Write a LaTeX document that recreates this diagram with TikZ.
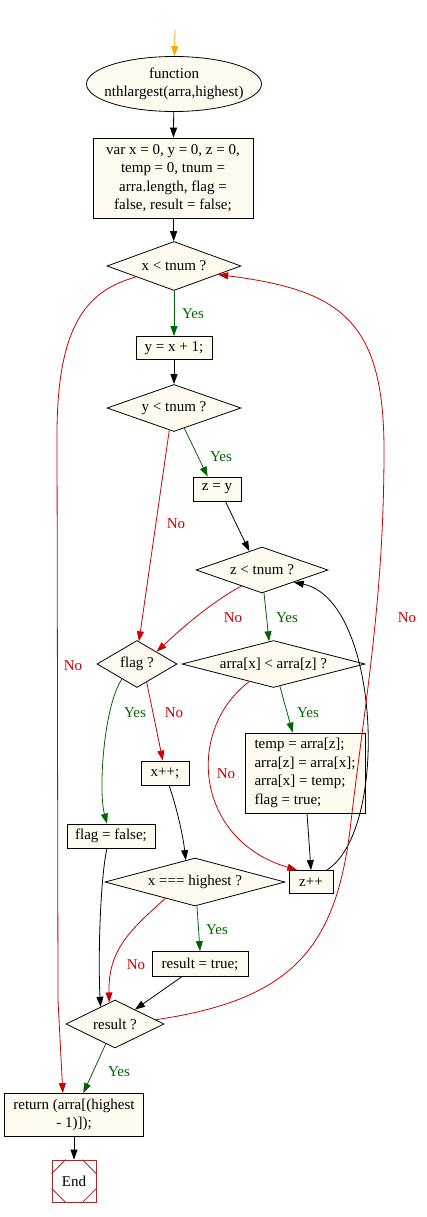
\documentclass[tikz,border=0pt]{standalone}
\usepackage{fontspec}
\setmainfont{Liberation Serif}
\usepackage{tikz}
\usetikzlibrary{
  arrows.meta,
  shapes.geometric,
}
\definecolor{nodefill}{RGB}{255, 250, 240}
\definecolor{yesgreen}{RGB}{0, 100, 0}
\definecolor{nored}{RGB}{204, 0, 0}
\definecolor{endred}{RGB}{165, 42, 42}
\definecolor{startorange}{RGB}{255, 165, 0}
\newcommand{\chartfont}{\fontsize{15}{18.5}\selectfont}
\tikzstyle{proc} = [
  rectangle,
  draw,
  fill=nodefill,
  line width=0.8pt,
  inner sep=0pt,
  align=center,
  font=\chartfont,
]
\tikzstyle{decision} = [
  diamond,
  draw,
  fill=nodefill,
  line width=0.8pt,
  aspect=4,
  inner sep=0pt,
  font=\chartfont,
]
\tikzstyle{startnode} = [
  ellipse,
  draw,
  fill=nodefill,
  line width=0.8pt,
  minimum width=175,
  minimum height=55,
]
\tikzstyle{endnode} = [
  rectangle,
  draw=endred,
  line width=0.8pt,
  minimum width=44,
  minimum height=42,
  inner sep=0pt,
  font=\chartfont,
]
\tikzstyle{arrow} = [
  -{Triangle[length=10pt,width=7pt]},
  line width=0.8pt,
]
\tikzstyle{yesarrow} = [arrow, yesgreen]
\tikzstyle{noarrow} = [arrow, nored]
\tikzstyle{startarrow} = [arrow, startorange]
\tikzstyle{yeslbl} = [font=\chartfont, text=yesgreen, inner sep=0pt]
\tikzstyle{nolbl} = [font=\chartfont, text=nored, inner sep=0pt]

\begin{document}
\begin{tikzpicture}[x=1pt,y=-1pt]
	\useasboundingbox (0,0) rectangle (426,1217);

	\coordinate (entry) at (175,30);
	\node[startnode] (fn) at (174,84) {};
	\node[font=\chartfont,align=center,inner sep=0pt] (fntext) at (fn.center) {function\\nthlargest(arra,highest)};
	\node[proc,minimum width=160,minimum height=80] (init) at (173,178) {var x = 0, y = 0, z = 0,\\temp = 0, tnum =\\arra.length, flag =\\false, result = false;};
	\node[decision,minimum width=134,minimum height=49] (xlt) at (174,266) {x < tnum ?};
	\node[proc,minimum width=76,minimum height=23] (yinc) at (174,348) {y = x + 1;};
	\node[decision,minimum width=134,minimum height=47] (ylt) at (174,408) {y < tnum ?};
	\node[proc,minimum width=48,minimum height=24] (zy) at (217,489) {z = y};
	\node[decision,minimum width=132,minimum height=46] (zlt) at (262,570) {z < tnum ?};
	\node[decision,aspect=2,minimum width=80,minimum height=47] (flagq) at (137,664) {flag ?};
	\node[decision,minimum width=183,minimum height=47] (swapq) at (273.5,664) {arra[x] < arra[z] ?};
	\node[proc,minimum width=48,minimum height=24] (xinc) at (165,773) {x++;};
	\node[proc,align=left,minimum width=120,minimum height=80] (swap) at (305,773) {temp = arra[z];\\arra[z] = arra[x];\\arra[x] = temp;\\flag = true;};
	\node[proc,minimum width=88,minimum height=24] (flagf) at (111,836) {flag = false;};
	\node[decision,minimum width=180,minimum height=48] (xhigh) at (195,882) {x === highest ?};
	\node[proc,minimum width=44,minimum height=23] (zinc) at (311,882) {z++};
	\node[proc,minimum width=96,minimum height=25] (rtrue) at (200,964) {result = true;};
	\node[decision,aspect=2,minimum width=98,minimum height=48] (resq) at (115,1024) {result ?};
	\node[proc,minimum width=139,minimum height=43] (ret) at (74,1115) {return (arra[(highest\\- 1)]);};
	\node[endnode] (fin) at (74,1181) {End};
	\draw[endred,line width=0.8pt] ([xshift=14pt]fin.north west) -- ([yshift=-14pt]fin.north west);
	\draw[endred,line width=0.8pt] ([xshift=-14pt]fin.north east) -- ([yshift=-14pt]fin.north east);
	\draw[endred,line width=0.8pt] ([xshift=14pt]fin.south west) -- ([yshift=14pt]fin.south west);
	\draw[endred,line width=0.8pt] ([xshift=-14pt]fin.south east) -- ([yshift=14pt]fin.south east);

	\node[yeslbl] (lxlt) at (193,314) {Yes};
	\node[yeslbl] (lylt) at (221,457) {Yes};
	\node[nolbl] (lyltno) at (176,524) {No};
	\node[nolbl] (lzltno) at (233,618) {No};
	\node[yeslbl] (lzlt) at (287,618) {Yes};
	\node[nolbl] (lxltno) at (73,666) {No};
	\node[yeslbl] (lflag) at (135,713) {Yes};
	\node[nolbl] (lflagno) at (174,713) {No};
	\node[yeslbl] (lswap) at (308,713) {Yes};
	\node[nolbl] (lswapno) at (226,774) {No};
	\node[nolbl] (lresno) at (407,618) {No};
	\node[yeslbl] (lxhigh) at (217,930) {Yes};
	\node[nolbl] (lxhighno) at (136,965) {No};
	\node[yeslbl] (lres) at (119,1072) {Yes};

	\draw[startarrow] (entry) -- (fn);
	\draw[arrow] (fn) -- (init);
	\draw[arrow] (init) -- (xlt);
	\draw[yesarrow] (xlt) -- (yinc);
	\draw[arrow] (yinc) -- (ylt);
	\draw[yesarrow] (ylt.297) -- (zy.127);
	\draw[noarrow] (ylt.258) -- (flagq.85);
	\draw[arrow] (zy.304) -- (zlt.124);
	\draw[yesarrow] (zlt.275) -- (swapq.101);
	\draw[noarrow] (zlt.218) .. controls (215,600) and (185,625) .. (flagq.32);
	\draw[yesarrow] (flagq.225) .. controls (104,705) and (98,790) .. (flagf.108);
	\draw[noarrow] (flagq.298) -- (xinc.100);
	\draw[yesarrow] (swapq.286) -- (swap.107);
	\draw[noarrow] (swapq.216) .. controls (185,730) and (195,840) .. (zinc.139);
	\draw[arrow] ([xshift=2pt]swap.south) -- (zinc.north);
	\draw[arrow] (zinc.37) .. controls (390,830) and (380,600) .. (zlt.339);
	\draw[arrow] (xinc.288) .. controls (176,805) and (183,835) .. (xhigh.113);
	\draw[yesarrow] ([xshift=2pt]xhigh.south) -- (rtrue.north);
	\draw[noarrow] (xhigh.209) .. controls (130,930) and (108,950) .. (resq.105);
	\draw[arrow] (flagf.252) .. controls (100,880) and (98,960) .. (resq.130);
	\draw[arrow] (rtrue.215) -- (resq.36);
	\draw[noarrow] (resq.6) .. controls (290,1000) and (335,950) .. (350,830) .. controls (365,700) and (384,600) .. (384,450) .. controls (384,320) and (340,290) .. (xlt.349);
	\draw[yesarrow] (resq.245) -- (ret.67);
	\draw[noarrow] (xlt.196) .. controls (90,290) and (58,320) .. (57,430) -- (58,1000) -- (ret.117);
	\draw[arrow] (ret) -- (fin);
\end{tikzpicture}
\end{document}
